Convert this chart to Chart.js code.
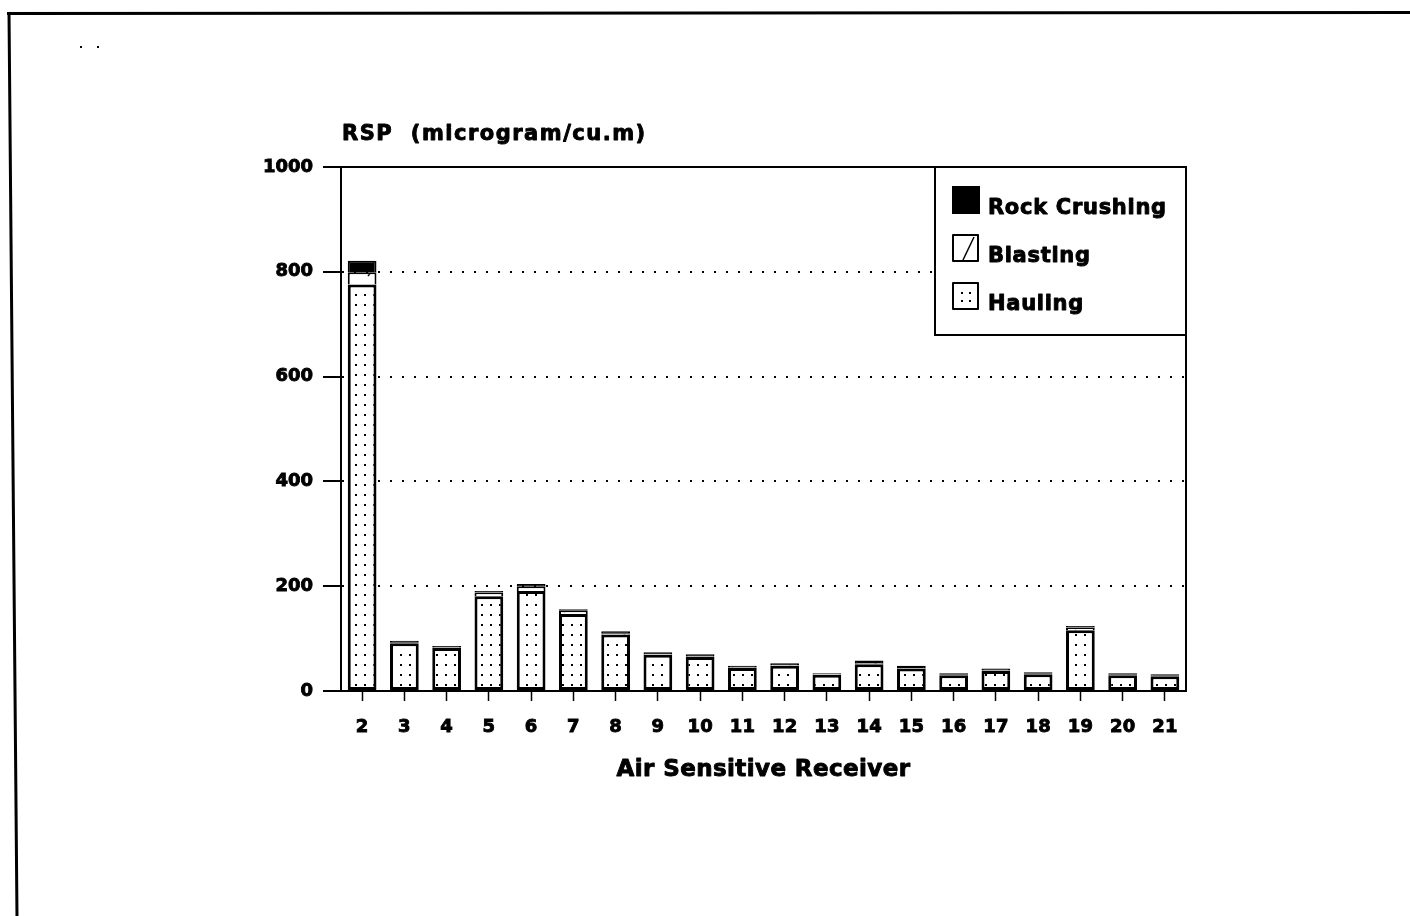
<!DOCTYPE html>
<html>
<head>
<meta charset="utf-8">
<title>RSP at Air Sensitive Receivers</title>
<script src="https://cdn.jsdelivr.net/npm/chart.js@4.4.1/dist/chart.umd.min.js"></script>
<style>
  html, body { margin: 0; padding: 0; background: #fff; overflow: hidden; }
  #wrap { width: 1410px; height: 916px; position: relative; }
  canvas { display: block; }
</style>
</head>
<body>
<div id="wrap"><canvas id="chart" width="1410" height="916"></canvas></div>
<script>
// Air sensitive receiver numbers along the x axis
const receivers = ['2', '3', '4', '5', '6', '7', '8', '9', '10', '11',
                   '12', '13', '14', '15', '16', '17', '18', '19', '20', '21'];

// RSP contribution by source (microgram/cu.m), stacked bottom to top
const hauling      = [776, 91, 82, 181, 191, 147, 108, 69, 65, 44, 48, 31, 51, 43, 30, 38, 32, 116, 30, 28];
const blasting     = [23, 1, 1, 7, 9, 7, 2, 1, 1, 1, 1, 1, 2, 1, 1, 1, 1, 5, 1, 1];
const rockCrushing = [22, 4, 3, 3, 4, 2, 4, 4, 4, 3, 4, 2, 5, 4, 3, 4, 3, 3, 3, 3];

// Y axis tick values
const yTickValues = [0, 200, 400, 600, 800, 1000];

const FONT = "'DejaVu Sans', 'Liberation Sans', sans-serif";
const INK = '#000';

// Dotted fill used for the hauling segments
function makeDotPattern() {
  const c = document.createElement('canvas');
  c.width = 9; c.height = 10;
  const g = c.getContext('2d');
  g.fillStyle = '#fff'; g.fillRect(0, 0, 9, 10);
  g.fillStyle = INK; g.fillRect(4, 4, 2, 2);
  return g.createPattern(c, 'repeat');
}

// Sparse diagonal hatch used for the blasting segments
function makeHatchPattern() {
  const s = 28;
  const c = document.createElement('canvas');
  c.width = s; c.height = s;
  const g = c.getContext('2d');
  g.fillStyle = '#fff'; g.fillRect(0, 0, s, s);
  g.strokeStyle = INK; g.lineWidth = 1.5;
  g.beginPath();
  g.moveTo(4, s - 4); g.lineTo(12, s - 14);
  g.stroke();
  return g.createPattern(c, 'repeat');
}

// Heavy text: a thin outline under the fill thickens the glyphs
function heavyText(ctx, text, x, y, size, spacing) {
  ctx.font = 'bold ' + size + 'px ' + FONT;
  if ('letterSpacing' in ctx) ctx.letterSpacing = spacing || '0px';
  ctx.fillStyle = INK;
  ctx.strokeStyle = INK;
  ctx.lineWidth = 0.9;
  ctx.lineJoin = 'round';
  ctx.strokeText(text, x, y);
  ctx.fillText(text, x, y);
}

// Scanned page frame and the two small marks at its top-left
const pageFrame = {
  id: 'pageFrame',
  beforeDraw(chart) {
    const ctx = chart.ctx;
    ctx.save();
    ctx.fillStyle = '#fff';
    ctx.fillRect(0, 0, chart.width, chart.height);
    ctx.strokeStyle = INK;
    ctx.lineWidth = 3;
    ctx.beginPath();
    ctx.moveTo(7, 13.5); ctx.lineTo(chart.width, 12.5);
    ctx.moveTo(9, 12); ctx.lineTo(17, chart.height);
    ctx.stroke();
    ctx.fillStyle = INK;
    ctx.fillRect(80, 46, 2, 2);
    ctx.fillRect(97, 46, 2, 2);
    ctx.restore();
  }
};

// Top and right edges of the plot frame, unit label and x axis title
const plotFrame = {
  id: 'plotFrame',
  afterDatasetsDraw(chart) {
    const { ctx, chartArea: a } = chart;
    ctx.save();
    ctx.strokeStyle = INK;
    ctx.lineWidth = 2;
    ctx.beginPath();
    ctx.moveTo(a.left + 1, a.top); ctx.lineTo(a.right, a.top);
    ctx.lineTo(a.right, a.bottom);
    ctx.stroke();
    ctx.restore();
  },
  afterDraw(chart) {
    const { ctx, chartArea: a } = chart;
    ctx.save();
    ctx.textBaseline = 'alphabetic';
    ctx.textAlign = 'left';
    heavyText(ctx, 'RSP  (microgram/cu.m)', a.left + 1, a.top - 27, 21, '1.5px');
    ctx.textAlign = 'center';
    heavyText(ctx, 'Air Sensitive Receiver', (a.left + a.right) / 2, a.bottom + 85, 23, '0.4px');
    ctx.restore();
  }
};

// Boxed legend in the upper-right corner of the plot
const boxLegend = {
  id: 'boxLegend',
  afterDraw(chart) {
    const { ctx, chartArea: a } = chart;
    const w = 251, h = 168;
    const x0 = a.right - w, y0 = a.top;
    ctx.save();
    ctx.fillStyle = '#fff';
    ctx.fillRect(x0, y0, w, h);
    ctx.strokeStyle = INK;
    ctx.lineWidth = 2;
    ctx.strokeRect(x0, y0, w, h);

    const items = chart.data.datasets.slice().reverse();
    const sx = x0 + 18, sw = 25, sh = 26;
    items.forEach((ds, i) => {
      const sy = y0 + 20 + i * 48;
      ctx.lineWidth = 2;
      ctx.strokeStyle = INK;
      if (ds.swatch === 'solid') {
        ctx.fillStyle = INK;
        ctx.fillRect(sx - 1, sy - 1, sw + 3, sh + 2);
      } else {
        ctx.fillStyle = '#fff';
        ctx.fillRect(sx, sy, sw, sh);
        ctx.strokeRect(sx, sy, sw, sh);
        ctx.fillStyle = INK;
        if (ds.swatch === 'hatch') {
          ctx.lineWidth = 1.5;
          ctx.beginPath();
          ctx.moveTo(sx + 10, sy + sh - 1);
          ctx.lineTo(sx + 21, sy + 2);
          ctx.stroke();
        } else {
          [[8, 9], [16, 9], [8, 17], [16, 17]].forEach(([dx, dy]) => ctx.fillRect(sx + dx, sy + dy, 2, 2));
        }
      }
      ctx.textAlign = 'left';
      ctx.textBaseline = 'alphabetic';
      heavyText(ctx, ds.label, sx + 35, sy + 27, 21, '0.7px');
    });
    ctx.restore();
  }
};

const ctx = document.getElementById('chart').getContext('2d');
new Chart(ctx, {
  type: 'bar',
  data: {
    labels: receivers,
    datasets: [
      {
        label: 'Hauling', data: hauling, swatch: 'dots',
        backgroundColor: makeDotPattern(), borderColor: INK, borderWidth: 3, borderSkipped: false
      },
      {
        label: 'Blasting', data: blasting, swatch: 'hatch',
        backgroundColor: makeHatchPattern(), borderColor: INK, borderWidth: 2, borderSkipped: 'bottom'
      },
      {
        label: 'Rock Crushing', data: rockCrushing, swatch: 'solid',
        backgroundColor: INK, borderColor: INK, borderWidth: 2, borderSkipped: 'bottom'
      }
    ]
  },
  options: {
    responsive: false,
    animation: false,
    devicePixelRatio: 1,
    layout: { padding: { left: 0, right: 224, top: 167, bottom: 137 } },
    datasets: { bar: { barPercentage: 0.68, categoryPercentage: 1.0 } },
    plugins: {
      legend: { display: false },
      title: { display: false },
      tooltip: { enabled: false }
    },
    scales: {
      x: {
        stacked: true,
        afterFit: s => { s.height = 88; },
        grid: {
          offset: false, drawOnChartArea: false, drawTicks: true,
          tickLength: 10, tickColor: INK, tickWidth: 1.5
        },
        border: { display: true, color: INK, width: 2 },
        ticks: {
          color: INK, padding: 16, maxRotation: 0, autoSkip: false,
          textStrokeColor: INK, textStrokeWidth: 0.9,
          font: { family: FONT, size: 18, weight: 'bold' }
        },
        title: { display: false }
      },
      y: {
        stacked: true,
        min: 0, max: 1000,
        afterFit: s => { s.width = 341; },
        afterBuildTicks: s => { s.ticks = yTickValues.map(v => ({ value: v })); },
        grid: {
          color: c => (c.tick && (c.tick.value === 0 || c.tick.value === 1000)) ? 'rgba(0,0,0,0)' : INK,
          lineWidth: 2,
          drawTicks: true, tickLength: 18, tickColor: INK, tickWidth: 2, tickBorderDash: []
        },
        border: { display: true, color: INK, width: 2, dash: [2, 10], dashOffset: 0 },
        ticks: {
          color: INK, padding: 10,
          textStrokeColor: INK, textStrokeWidth: 0.9,
          callback: v => String(v),
          font: { family: FONT, size: 18, weight: 'bold' }
        }
      }
    }
  },
  plugins: [pageFrame, plotFrame, boxLegend]
});
</script>
</body>
</html>
